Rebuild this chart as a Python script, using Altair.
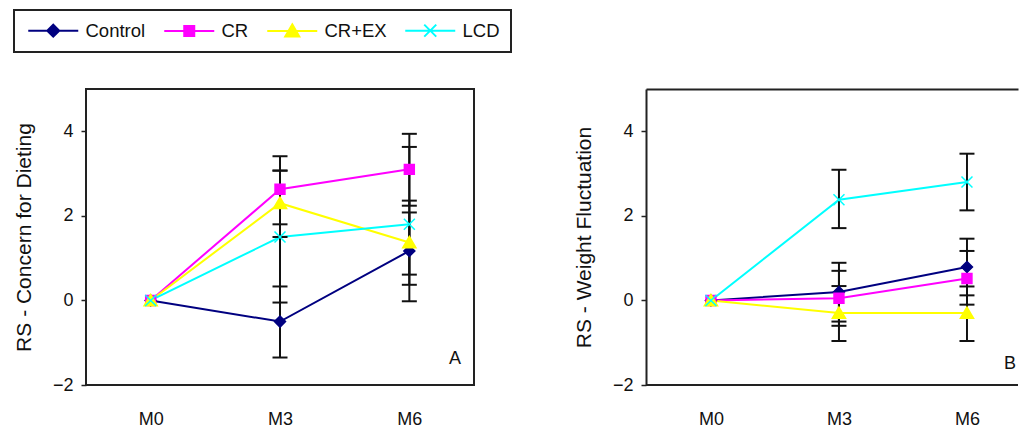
import altair as alt
import pandas as pd

times = ["M0", "M3", "M6"]
series = ["Control", "CR", "CR+EX", "LCD"]
colors = ["#000080", "#FF00FF", "#FFFF00", "#00FFFF"]

# Panel A: RS - Concern for Dieting
a_mean = {
    "Control": [0.0, -0.50, 1.17],
    "CR": [0.0, 2.63, 3.10],
    "CR+EX": [0.0, 2.30, 1.37],
    "LCD": [0.0, 1.50, 1.80],
}
a_lo = {
    "Control": [None, -1.35, 0.61],
    "CR": [None, 1.80, 2.24],
    "CR+EX": [None, 1.50, 0.37],
    "LCD": [None, -0.05, -0.02],
}
a_hi = {
    "Control": [None, 0.33, 2.08],
    "CR": [None, 3.41, 3.94],
    "CR+EX": [None, 3.07, 2.36],
    "LCD": [None, 3.07, 3.63],
}

# Panel B: RS - Weight Fluctuation
b_mean = {
    "Control": [0.0, 0.20, 0.79],
    "CR": [0.0, 0.05, 0.52],
    "CR+EX": [0.0, -0.30, -0.30],
    "LCD": [0.0, 2.38, 2.80],
}
b_lo = {
    "Control": [None, -0.50, 0.12],
    "CR": [None, -0.60, -0.10],
    "CR+EX": [None, -0.96, -0.96],
    "LCD": [None, 1.71, 2.13],
}
b_hi = {
    "Control": [None, 0.89, 1.46],
    "CR": [None, 0.70, 1.17],
    "CR+EX": [None, 0.34, 0.33],
    "LCD": [None, 3.09, 3.47],
}

y_domain = [-2, 5]
y_ticks = [-2, 0, 2, 4]

FONT = "Liberation Sans"
FRAME = "#222222"

point_paths = [
    "M0,-1L1,0L0,1L-1,0Z",
    "M-0.9,-0.9H0.9V0.9H-0.9Z",
    "M0,-1.1L1.2,0.95L-1.2,0.95Z",
    "M-1,-1L1,1M-1,1L1,-1",
]
legend_paths = [
    "M-5,0H5M0,-1.2L1.2,0L0,1.2L-1.2,0Z",
    "M-5,0H5M-1,-1H1V1H-1Z",
    "M-5,0H5M0,-1.3L1.4,1.1L-1.4,1.1Z",
    "M-5,0H5M-1.2,-1.2L1.2,1.2M-1.2,1.2L1.2,-1.2",
]


def make_df(mean, lo, hi):
    rows = []
    for s in series:
        for i, t in enumerate(times):
            rows.append({"series": s, "time": t, "mean": mean[s][i],
                         "lo": lo[s][i], "hi": hi[s][i]})
    return pd.DataFrame(rows)


def panel(df, ytitle, letter, width, xpad, xalign, letter_pos, with_legend, open_right):
    xscale = alt.Scale(type="point", domain=times, padding=xpad, align=xalign)
    xaxis = alt.Axis(title=None, labelAngle=0, ticks=False, domain=False,
                     labelPadding=25, labelFontSize=18, grid=False)
    xenc = alt.X("time:O", sort=times, scale=xscale, axis=xaxis)
    # with independent x axes (panel B) only the line layer carries the bottom axis
    xother = alt.X("time:O", sort=times, scale=xscale, axis=None) if open_right else xenc
    yscale = alt.Scale(domain=y_domain, nice=False, zero=False)
    yaxis = alt.Axis(title=ytitle, values=y_ticks, grid=False,
                     domain=open_right, domainColor=FRAME, domainWidth=2,
                     tickSize=5, labelPadding=8, labelFontSize=18,
                     titleFontSize=21, titlePadding=18)
    base = alt.Chart(df)
    color = alt.Color("series:N", scale=alt.Scale(domain=series, range=colors), legend=None)

    lines = base.mark_line(strokeWidth=2).encode(
        x=xenc, y=alt.Y("mean:Q", scale=yscale, axis=yaxis), color=color, detail="series:N")

    errdf = base.transform_filter("isValid(datum.lo)")
    rules = errdf.mark_rule(color="#111111", strokeWidth=2).encode(
        x=xother, y=alt.Y("lo:Q", scale=yscale, axis=yaxis), y2="hi:Q")
    caps = errdf.transform_fold(["lo", "hi"], as_=["end", "val"]).mark_tick(
        color="#111111", size=15, thickness=2, opacity=1).encode(
        x=xother, y=alt.Y("val:Q", scale=yscale, axis=yaxis))

    pts = base.mark_point(filled=True, opacity=1, strokeWidth=1.5).encode(
        x=xother, y=alt.Y("mean:Q", scale=yscale, axis=yaxis),
        fill=alt.Fill("series:N", scale=alt.Scale(domain=series, range=colors), legend=None),
        stroke=alt.Stroke("series:N", scale=alt.Scale(domain=series, range=colors), legend=None),
        shape=alt.Shape("series:N", scale=alt.Scale(domain=series, range=point_paths), legend=None),
        size=alt.value(121))

    lab = alt.Chart(pd.DataFrame({"letter": [letter]})).mark_text(
        font=FONT, fontSize=18, color="#111111", align="center", baseline="middle").encode(
        text="letter:N", x=alt.value(letter_pos[0]), y=alt.value(letter_pos[1]))

    layers = [lines, rules, caps, pts, lab]
    if open_right:
        bottom = alt.Chart(pd.DataFrame({"edge": [y_domain[0]]})).mark_rule(
            color=FRAME, strokeWidth=2).encode(y=alt.Y("edge:Q", scale=yscale, axis=yaxis))
        top_axis = alt.Axis(orient="top", title=None, labels=False, ticks=False, grid=False,
                            domain=True, domainColor=FRAME, domainWidth=2)
        top = base.transform_filter("false").mark_point(opacity=0).encode(
            x=alt.X("time:O", sort=times, scale=xscale, axis=top_axis),
            y=alt.Y("mean:Q", scale=yscale, axis=yaxis))
        layers += [bottom, top]
    if with_legend:
        leg = alt.Legend(orient="none", legendX=-72, legendY=-79, direction="horizontal",
                         columns=4, title=None, strokeColor=FRAME, padding=11,
                         symbolSize=100, symbolStrokeWidth=2, symbolOffset=19,
                         labelOffset=23, columnPadding=14, labelFontSize=18.5,
                         labelFont=FONT, labelColor="#111111")
        legl = base.transform_filter("false").mark_point(filled=True, opacity=1, strokeWidth=2).encode(
            x=xother, y=alt.Y("mean:Q", scale=yscale, axis=yaxis),
            fill=alt.Fill("series:N", scale=alt.Scale(domain=series, range=colors), legend=leg),
            stroke=alt.Stroke("series:N", scale=alt.Scale(domain=series, range=colors), legend=leg),
            shape=alt.Shape("series:N", scale=alt.Scale(domain=series, range=legend_paths), legend=leg))
        layers.append(legl)
    ch = alt.layer(*layers).resolve_scale(
        shape="independent", fill="independent", stroke="independent"
    )
    if open_right:
        ch = ch.resolve_axis(x="independent").properties(
            view=alt.ViewBackground(stroke="transparent"))
    else:
        ch = ch.properties(view=alt.ViewBackground(stroke=FRAME, strokeWidth=2))
    return ch.properties(width=width, height=296)


dfa = make_df(a_mean, a_lo, a_hi)
dfb = make_df(b_mean, b_lo, b_hi)

chart_a = panel(dfa, "RS - Concern for Dieting", "A", 388, 0.5, 0.5, (369, 270), True, False)
chart_b = panel(dfb, "RS - Weight Fluctuation", "B", 372, 0.453, 0.56, (364, 275), False, True)

chart = alt.hconcat(chart_a, chart_b, spacing=172, bounds="flush").resolve_scale(
    shape="independent", fill="independent", stroke="independent", color="independent"
).properties(
    padding={"left": 4, "top": 0, "right": 0, "bottom": 0}
).configure_axis(
    labelFont=FONT, titleFont=FONT, labelColor="#111111", titleColor="#111111",
    tickColor=FRAME, tickWidth=1.5, titleFontWeight="normal"
).configure_legend(
    strokeWidth=2
)

chart.save("out.html", embed_options={"renderer": "svg", "actions": False})
